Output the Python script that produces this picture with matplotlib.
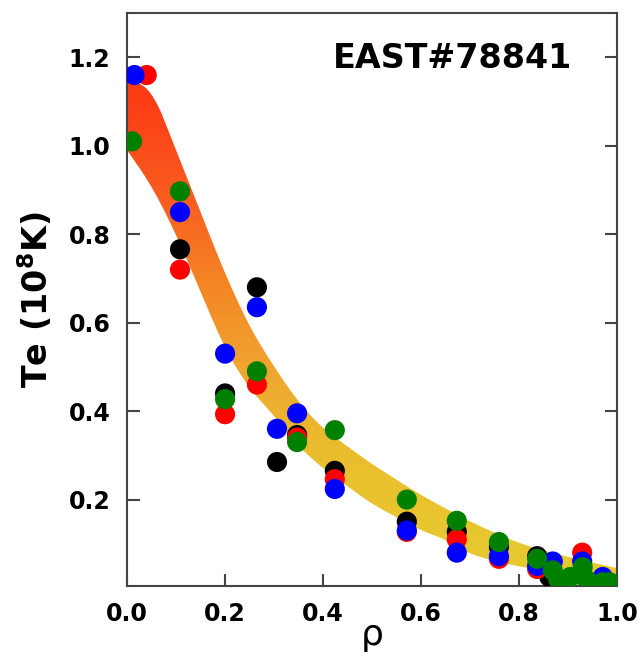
import numpy as np
import matplotlib
matplotlib.use("Agg")
import matplotlib.pyplot as plt
from matplotlib.colors import LinearSegmentedColormap
from matplotlib.patches import Polygon

# fitted Te profile band (upper / lower edge) vs rho
band_rho   = [0.0, 0.05, 0.1, 0.15, 0.2, 0.25, 0.3, 0.35, 0.4, 0.45, 0.5, 0.55, 0.6, 0.65, 0.7, 0.8, 0.9, 1.0]
band_upper = [1.15, 1.13, 0.99, 0.85, 0.71, 0.59, 0.50, 0.42, 0.36, 0.32, 0.28, 0.245, 0.21, 0.18, 0.15, 0.10, 0.07, 0.045]
band_lower = [0.99, 0.91, 0.80, 0.67, 0.54, 0.45, 0.39, 0.32, 0.27, 0.23, 0.19, 0.16, 0.13, 0.11, 0.075, 0.048, 0.03, 0.015]

# measured points, one list per colour
black_rho = [0.108, 0.2, 0.265, 0.306, 0.347, 0.424, 0.571, 0.673, 0.759, 0.837, 0.862, 0.93]
black_te  = [0.766, 0.44, 0.68, 0.285, 0.346, 0.265, 0.15, 0.127, 0.093, 0.072, 0.025, 0.03]

red_rho = [0.04, 0.108, 0.2, 0.265, 0.347, 0.424, 0.571, 0.673, 0.759, 0.837, 0.929, 0.97]
red_te  = [1.16, 0.72, 0.393, 0.46, 0.34, 0.246, 0.127, 0.11, 0.066, 0.043, 0.08, 0.02]

blue_rho = [0.015, 0.108, 0.2, 0.265, 0.306, 0.347, 0.424, 0.571, 0.673, 0.759, 0.837, 0.869, 0.929, 0.971]
blue_te  = [1.16, 0.85, 0.53, 0.635, 0.36, 0.395, 0.224, 0.13, 0.08, 0.072, 0.05, 0.06, 0.06, 0.025]

green_rho = [0.01, 0.108, 0.2, 0.265, 0.347, 0.424, 0.571, 0.673, 0.759, 0.837, 0.869, 0.88, 0.905, 0.93, 0.94, 0.971, 0.985]
green_te  = [1.01, 0.897, 0.427, 0.49, 0.33, 0.357, 0.2, 0.152, 0.104, 0.066, 0.04, 0.02, 0.025, 0.047, 0.016, 0.013, 0.013]

series = [
    (black_rho, black_te, "black"),
    (red_rho,   red_te,   "#ff0000"),
    (blue_rho,  blue_te,  "#0000ff"),
    (green_rho, green_te, "#008000"),
]


def chaikin(x, y, n=4):
    # corner cutting, keeps the end points, only to draw a smooth edge
    pts = np.column_stack([x, y]).astype(float)
    for _ in range(n):
        q = 0.75 * pts[:-1] + 0.25 * pts[1:]
        r = 0.25 * pts[:-1] + 0.75 * pts[1:]
        mid = np.empty((2 * len(q), 2))
        mid[0::2] = q
        mid[1::2] = r
        pts = np.vstack([pts[:1], mid, pts[-1:]])
    return pts


fig = plt.figure(figsize=(6.42, 6.56), dpi=100)
ax = fig.add_axes([0.198, 0.107, 0.763, 0.873])

ymin, ymax = 0.005, 1.3

# gradient band: red at high Te to yellow at low Te
cmap = LinearSegmentedColormap.from_list("te_band", [
    (0.0,  "#e6cc30"),
    (0.25, "#eabe2e"),
    (0.42, "#f0a430"),
    (0.58, "#f48424"),
    (0.72, "#f86020"),
    (0.88, "#fc4418"),
    (1.0,  "#ff3210"),
])
up = chaikin(band_rho, band_upper)
lo = chaikin(band_rho, band_lower)
poly = Polygon(np.vstack([up, lo[::-1]]), closed=True, facecolor="none",
               edgecolor="none", transform=ax.transData)
ax.add_patch(poly)
grad = np.linspace(0, 1, 256).reshape(-1, 1)
img = ax.imshow(grad, cmap=cmap, origin="lower", aspect="auto",
                extent=[0, 1, 0, 1.2], zorder=1)
img.set_clip_path(poly)

for rho, te, col in series:
    ax.scatter(rho, te, s=210, color=col, edgecolors="none", zorder=3)

ax.set_xlim(0, 1)
ax.set_ylim(ymin, ymax)
ax.set_xticks([0.0, 0.2, 0.4, 0.6, 0.8, 1.0])
ax.set_yticks([0.2, 0.4, 0.6, 0.8, 1.0, 1.2])
ax.xaxis.set_major_formatter(matplotlib.ticker.FormatStrFormatter("%.1f"))
ax.yaxis.set_major_formatter(matplotlib.ticker.FormatStrFormatter("%.1f"))
ax.tick_params(direction="in", length=9, width=1.5, color="#444444",
               labelsize=17, pad=12, right=True)
for lab in ax.get_xticklabels() + ax.get_yticklabels():
    lab.set_fontweight("bold")
for sp in ax.spines.values():
    sp.set_color("#444444")
    sp.set_linewidth(1.5)

ax.set_ylabel("Te (10$^\\mathbf{8}$K)", fontsize=24, fontweight="bold", labelpad=10)
ax.set_xlabel("ρ", fontsize=26, labelpad=-6)
ax.text(0.908, 0.92, "EAST#78841", transform=ax.transAxes, ha="right", va="center",
        fontsize=24, fontweight="bold")

fig.savefig("out.png", dpi=100)
